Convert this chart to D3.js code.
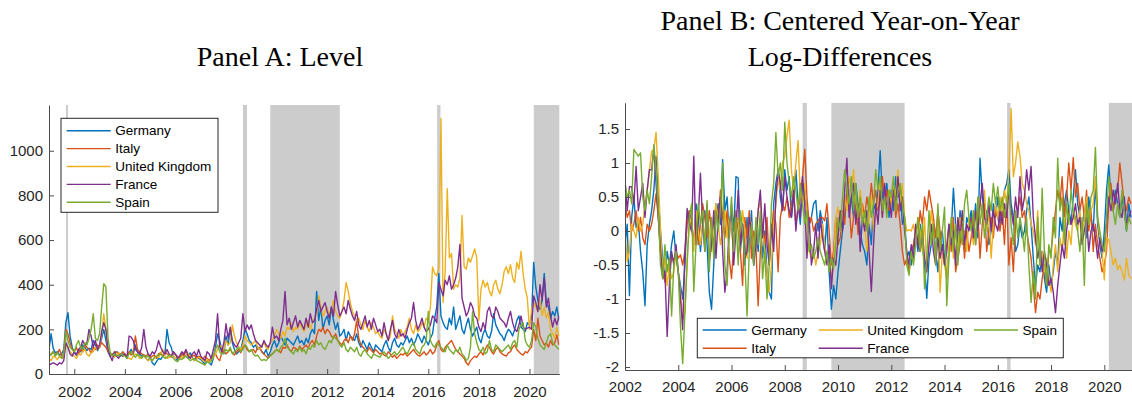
<!DOCTYPE html>
<html>
<head>
<meta charset="utf-8">
<script src="https://cdn.jsdelivr.net/npm/d3@7"></script>
<style>
  body { margin: 0; background: #fff; }
  svg { display: block; }
</style>
</head>
<body>
<div id="vis"></div>
<script>
const countries = ["Germany", "Italy", "United Kingdom", "France", "Spain"];
const colors = ["#0072BD", "#D95319", "#EDB120", "#7E2F8E", "#77AC30"];

// Panel A: monthly levels, first value = Jan 2001
const levelStart = 2001;
const levelGermany = [
  110, 180, 115, 95, 100, 85, 90, 110, 230, 275, 170, 120,
  95, 85, 110, 100, 130, 120, 105, 115, 110, 150, 130, 105,
  120, 160, 200, 150, 100, 80, 90, 85, 100, 95, 80, 90,
  85, 75, 95, 110, 90, 130, 100, 90, 80, 85, 70, 60,
  75, 50, 40, 55, 70, 65, 80, 90, 200, 140, 120, 80,
  70, 60, 75, 85, 90, 80, 70, 95, 75, 60, 80, 70,
  65, 55, 45, 60, 50, 40, 70, 120, 180, 150, 110, 90,
  170, 130, 200, 140, 110, 90, 100, 110, 150, 200, 180, 150,
  140, 120, 130, 110, 120, 100, 90, 110, 80, 100, 130, 150,
  120, 140, 170, 150, 130, 160, 150, 140, 130, 150, 170, 140,
  150, 130, 160, 140, 180, 200, 180, 370, 240, 300, 200, 240,
  260, 220, 300, 240, 200, 230, 170, 180, 200, 150, 190, 170,
  160, 150, 180, 140, 120, 150, 130, 110, 140, 120, 100, 130,
  120, 110, 100, 130, 150, 120, 100, 140, 160, 130, 120, 140,
  130, 150, 170, 140, 160, 130, 150, 180, 160, 140, 170, 150,
  130, 160, 180, 250, 300, 450, 260, 230, 210, 200, 250, 220,
  300, 200, 230, 260, 200, 180, 220, 250, 200, 170, 190, 210,
  160, 140, 180, 200, 170, 160, 190, 270, 220, 200, 180, 170,
  150, 180, 200, 190, 170, 200, 240, 260, 210, 200, 190, 230,
  220, 250, 500, 390, 330, 290, 330, 450, 320, 300, 250, 280,
  260, 300, 240];
const levelItaly = [
  80, 90, 100, 85, 95, 110, 80, 90, 200, 180, 140, 110,
  100, 120, 90, 110, 100, 130, 120, 110, 95, 120, 110, 130,
  120, 140, 130, 120, 100, 90, 85, 95, 100, 90, 85, 100,
  90, 80, 100, 85, 95, 170, 110, 100, 90, 85, 80, 90,
  70, 80, 85, 70, 90, 95, 80, 100, 90, 85, 75, 100,
  85, 80, 70, 95, 80, 105, 90, 75, 80, 85, 70, 80,
  75, 65, 80, 70, 60, 75, 85, 90, 70, 60, 95, 105,
  90, 100, 110, 95, 85, 100, 110, 95, 120, 130, 110, 100,
  105, 110, 95, 120, 115, 100, 90, 80, 70, 85, 90, 100,
  110, 105, 95, 120, 115, 130, 110, 100, 120, 115, 105, 125,
  110, 120, 130, 115, 140, 150, 130, 170, 200, 190, 210, 180,
  200, 190, 170, 160, 180, 150, 140, 130, 150, 160, 140, 170,
  150, 180, 240, 160, 130, 120, 110, 100, 120, 105, 95, 110,
  100, 90, 95, 85, 80, 100, 90, 75, 85, 70, 80, 90,
  85, 95, 80, 90, 100, 110, 95, 85, 80, 90, 100, 85,
  95, 110, 90, 100, 130, 150, 110, 100, 120, 130, 140, 150,
  130, 110, 100, 90, 80, 70, 50, 40, 60, 70, 80, 75,
  90, 100, 85, 110, 130, 120, 100, 90, 110, 120, 100, 90,
  85, 80, 95, 100, 120, 130, 110, 100, 90, 85, 100, 95,
  110, 120, 200, 150, 250, 170, 150, 130, 140, 120, 150, 130,
  140, 175, 130];
const levelUK = [
  70, 60, 80, 75, 65, 80, 70, 75, 130, 120, 100, 90,
  80, 70, 90, 85, 100, 110, 90, 80, 95, 100, 120, 110,
  120, 180, 270, 200, 110, 90, 80, 75, 85, 95, 90, 80,
  85, 75, 70, 65, 80, 90, 85, 70, 75, 80, 70, 60,
  65, 60, 70, 80, 75, 90, 110, 80, 70, 75, 85, 80,
  70, 75, 65, 80, 70, 85, 90, 80, 70, 60, 65, 75,
  70, 60, 55, 65, 50, 60, 75, 90, 110, 130, 120, 110,
  150, 130, 140, 220, 170, 140, 120, 110, 130, 170, 150, 140,
  130, 140, 150, 120, 110, 130, 140, 120, 110, 140, 150, 170,
  200, 180, 160, 190, 170, 210, 200, 230, 190, 210, 200, 230,
  210, 190, 220, 240, 200, 230, 250, 270, 350, 300, 260, 280,
  300, 260, 290, 330, 280, 260, 250, 280, 330, 410, 370, 320,
  280, 260, 240, 250, 220, 200, 240, 210, 190, 230, 210, 180,
  190, 170, 160, 200, 180, 150, 170, 260, 200, 180, 160, 200,
  170, 190, 210, 250, 200, 180, 220, 190, 200, 230, 210, 250,
  240, 300, 480, 450, 440, 480, 1145, 320, 460, 830, 520, 540,
  380, 400, 390, 430, 710, 480, 470, 520, 500, 530, 560, 520,
  240, 380, 420, 390, 410, 370, 350, 400, 420, 380, 360, 400,
  460, 480, 450, 490, 430, 410, 500, 470, 550, 450, 380, 340,
  200, 290, 320, 300, 280, 330, 260, 300, 250, 280, 200, 180,
  160, 210, 170];
const levelFrance = [
  40, 45, 50, 45, 40, 50, 45, 60, 140, 120, 90, 80,
  100, 85, 110, 120, 150, 130, 140, 200, 170, 120, 150, 110,
  130, 190, 230, 200, 110, 80, 60, 100, 80, 70, 90, 80,
  90, 70, 170, 165, 150, 110, 100, 90, 120, 200, 120, 90,
  80, 100, 90, 110, 150, 120, 100, 90, 110, 90, 80, 100,
  90, 70, 80, 100, 90, 110, 80, 70, 90, 100, 80, 110,
  80, 70, 60, 100, 90, 70, 110, 150, 270, 120, 100, 140,
  225, 160, 210, 150, 130, 120, 140, 160, 270, 190, 220, 200,
  220, 180, 150, 140, 130, 120, 150, 130, 120, 140, 210, 160,
  170, 150, 200, 240, 370, 220, 250, 200, 230, 260, 210, 240,
  220, 200, 250, 210, 270, 230, 240, 290, 330, 280, 300, 320,
  280, 250, 300, 260, 370, 310, 260, 280, 300, 270, 330, 290,
  260, 240, 280, 220, 200, 230, 260, 210, 240, 200, 250, 220,
  190, 200, 170, 230, 180, 150, 200, 240, 180, 160, 200, 170,
  180, 160, 200, 230, 250, 320, 240, 200, 220, 250, 210, 190,
  200, 220, 260, 250, 230, 410, 380, 350, 420, 400, 440, 380,
  400, 430, 480, 580, 340, 300, 260, 280, 320, 300, 260, 250,
  210, 190, 230, 200, 280, 300, 260, 250, 300, 280, 250, 240,
  230, 210, 250, 280, 230, 200, 190, 220, 260, 210, 200, 205,
  210, 200, 350, 320, 280, 400, 330, 430, 300, 340, 260, 210,
  250, 220, 260];
const levelSpain = [
  90, 85, 100, 80, 95, 80, 70, 90, 190, 150, 120, 110,
  100, 130, 150, 120, 110, 140, 130, 160, 200, 270, 160, 150,
  180, 300, 405, 390, 160, 100, 80, 90, 85, 80, 90, 85,
  80, 70, 90, 100, 85, 75, 90, 80, 70, 85, 75, 80,
  70, 60, 75, 80, 85, 90, 80, 70, 75, 85, 80, 70,
  60, 55, 70, 65, 75, 80, 70, 60, 65, 70, 60, 55,
  50, 45, 40, 55, 50, 60, 80, 110, 130, 100, 90, 95,
  110, 100, 120, 90, 100, 110, 120, 100, 110, 130, 120, 100,
  110, 90, 80, 85, 70, 60, 65, 60, 70, 80, 90, 100,
  110, 100, 120, 130, 160, 120, 110, 100, 90, 110, 100, 120,
  100, 110, 90, 120, 110, 130, 120, 150, 130, 140, 120, 110,
  130, 150, 140, 170, 160, 150, 130, 120, 140, 110, 100, 120,
  110, 100, 120, 90, 80, 100, 110, 90, 80, 70, 90, 85,
  80, 75, 90, 100, 85, 70, 80, 90, 100, 85, 95, 110,
  120, 100, 90, 110, 130, 140, 110, 100, 90, 120, 130, 150,
  280, 150, 130, 120, 140, 130, 120, 110, 100, 130, 110, 100,
  90, 110, 100, 120, 90, 80, 60, 70, 120, 280, 180, 140,
  110, 100, 120, 90, 100, 150, 110, 100, 130, 120, 110, 100,
  110, 120, 130, 110, 140, 150, 120, 200, 220, 230, 150, 130,
  120, 150, 230, 210, 160, 130, 120, 110, 140, 170, 180, 140,
  130, 120, 110];

// Panel B: centered year-on-year log-differences, first value = Jan 2002
const diffStart = 2002;
const diffGermany = [
  -0.2, 0.1, -0.95, 0.2, 0.5, 0.05, 0.15, -0.3, -0.6, -1.1, -0.2, 0.1,
  0.3, 0.6, 1.1, 0.5, 0.0, -0.4, -0.7, -0.3, -0.5, -0.2, 0.0, -0.4,
  -0.6, -0.8, -1.0, -0.5, 0.2, 0.3, 0.1, -0.2, 0.4, 0.2, -0.3, 0.1,
  0.3, -0.2, -0.9, -1.15, -0.5, 0.2, 0.4, 0.1, 1.05, 0.3, 0.5, -0.1,
  0.4, 0.0, 0.8, 0.78, -0.3, 0.1, -0.5, 0.2, -0.3, 0.3, -0.5, 0.1,
  -0.3, 0.2, -0.4, 0.0, -0.6, -0.9, -1.0, 0.4, 0.7, 0.9, 0.5, 0.3,
  0.9, 0.6, 0.8, 0.2, 0.5, 0.9, 0.4, 0.1, 0.7, 0.6, 0.3, 0.1,
  0.2, 0.4, 0.45, 0.0, 0.3, 0.1, -0.3, 0.2, -0.6, -1.15, -0.8, -1.0,
  -0.6, -0.3, 0.0, 0.2, 0.6, 0.3, 0.5, 0.2, 0.7, 0.4, 0.0, -0.2,
  -0.3, -0.5, 0.1, -0.2, 0.4, 0.3, 0.6, 1.18, 0.5, 0.4, 0.7, 0.2,
  0.6, 0.3, 0.8, 0.5, 0.6, 0.1, 0.2, -0.4, -0.3, -0.5, -0.2, 0.0,
  -0.3, 0.1, -0.2, -0.5, -0.99, -0.4, -0.2, 0.1, -0.3, -0.6, -0.1, 0.0,
  -0.4, -0.7, -0.3, 0.0, 0.63, 0.1, -0.2, 0.3, 0.0, -0.3, 0.2, 0.1,
  0.3, 0.0, 0.4, -0.1, 1.07, 0.5, 0.2, 0.3, -0.2, 0.0, 0.4, 0.2,
  0.5, 0.1, 0.3, 0.6, 0.7, 0.9, 0.4, 0.2, -0.3, -0.2, 0.1, -0.1,
  0.0, 0.3, 0.5, 0.1, -0.4, -0.8, -0.5, -0.6, -0.3, -0.7, -0.9, -0.5,
  -0.8, -0.6, -0.3, -0.5, 0.2, 0.0, 0.4, 0.6, 0.3, 0.1, 0.5, 0.9,
  0.4, 0.2, 0.0, 0.3, -0.1, 0.5, 0.2, 0.0, 0.7, 0.1, -0.2, -0.4,
  0.0, 0.6, 0.97, 0.5, 0.3, 0.6, 0.4, 0.2, 0.5, 0.3, 0.0, 0.4,
  0.2];
const diffItaly = [
  0.4, 0.2, 0.3, 0.0, 0.1, 0.3, 0.0, 0.2, -0.1, -0.2, 0.1, 0.0,
  0.1, 0.3, 0.55, 0.2, -0.3, -0.6, -0.75, -0.5, -0.6, -0.35, -0.45, -0.3,
  -0.4, -0.35, -0.5, -0.3, 0.1, 0.3, 0.0, -0.1, 0.2, -0.2, 0.1, 0.4,
  0.2, -0.1, 0.3, 0.0, -0.2, 0.4, 0.1, 0.6, 0.2, -0.1, 0.3, -0.4,
  -0.7, -0.2, 0.3, 0.0, -0.3, -0.8, 0.2, -0.1, 0.3, -0.4, 0.0, -0.2,
  -1.1, -0.3, 0.1, -0.2, 0.2, -0.5, 0.0, 0.3, 0.1, -0.6, 0.2, 0.4,
  0.3, 0.5, 0.2, 0.4, 0.6, 0.1, 0.3, 0.5, 0.8, 1.2, 0.5, 0.1,
  0.2, 0.0, 0.1, 0.15, 0.2, 0.2, 0.15, 0.4, 0.0, -0.5, -0.3, 0.2,
  -0.2, -0.1, 0.3, 0.1, 0.6, 0.4, -0.1, 0.2, 0.5, -0.05, 0.3, 0.4,
  0.2, 0.5, 0.3, 0.7, 0.4, 0.6, 0.3, 0.5, 0.8, 0.4, 0.6, 0.3,
  0.5, 0.7, 0.2, 0.4, 0.1, -0.3, -0.5, -0.4, -0.6, -0.3, -0.2, 0.0,
  -0.2, 0.3, 0.1, 0.5, 0.3, 0.6, 0.4, 0.2, -0.1, 0.3, 0.0, -0.3,
  -0.5, -0.2, 0.1, -0.3, 0.2, -0.6, -0.4, -0.2, 0.1, -0.4, 0.0, -0.3,
  -0.1, 0.2, -0.2, 0.3, -0.4, 0.1, 0.4, -0.3, 0.0, 0.2, -0.1, 0.3,
  0.2, 0.0, 0.3, -0.2, 0.5, -0.5, -0.1, -0.6, 0.1, 0.3, 0.5, 0.2,
  0.3, 0.0, -0.2, -0.4, -0.8, -1.2, -0.9, -1.0, -0.7, -0.5, -0.8, -0.3,
  -0.3, 0.0, 0.3, 0.6, 0.4, 0.8, 0.2, 0.5, 1.0, 0.6, 1.08, 0.5,
  0.7, 0.3, 0.5, 0.2, 0.6, 0.0, 0.3, -0.3, 0.1, -0.2, -0.4, -0.6,
  -0.5, -0.3, 0.4, 0.7, 0.3, 0.5, 0.6, 1.0, 0.7, 0.4, 0.3, 0.5,
  0.4];
const diffUK = [
  0.0, -0.45, -0.3, 0.1, 0.0, -0.1, 0.2, 0.0, 0.1, 0.4, 0.6, 0.9,
  1.17, 1.2, 1.45, 0.8, 0.0, -0.6, -0.4, -0.8, -0.5, -0.7, -0.6, -0.3,
  -0.6, -0.9, -1.3, -1.2, -0.4, 0.1, 0.2, -0.3, 0.3, 0.0, -0.2, 0.1,
  -0.1, 0.3, 0.0, -0.3, 0.2, 0.4, 0.1, -0.2, 0.0, 0.3, -0.1, 0.2,
  0.0, -0.3, 0.1, 0.2, -0.2, 0.3, 0.0, -0.4, 0.2, 0.1, -0.3, 0.0,
  0.3, 0.45, 0.0, -0.3, -0.6, -0.9, -0.5, 0.1, 0.4, 0.8, 0.6, 1.0,
  1.1, 1.4, 1.63, 0.9, 0.6, 1.0, 1.33, 0.5, 0.4, 0.7, 0.2, -0.3,
  -0.4, -0.3, -0.5, -0.3, -0.2, 0.1, -0.2, -0.4, -0.3, -0.7, -0.5, 0.2,
  0.35, 0.0, 0.2, 0.5, 0.3, 0.8, 0.6, 0.9, 0.4, 0.2, 0.6, 0.3,
  0.1, -0.3, 0.2, 0.5, 0.0, 0.3, 0.4, 0.7, 0.2, 0.5, 0.3, 0.6,
  0.4, 0.7, 0.5, 0.9, 0.4, 0.7, 0.2, 0.0, 0.02, 0.0, 0.1, -0.1,
  0.2, 0.0, -0.3, 0.2, -0.6, -0.2, 0.3, 0.0, -0.4, 0.1, -0.9, -0.3,
  -0.5, -0.7, -0.2, 0.1, -0.4, 0.0, -0.3, 0.2, -0.1, 0.0, -0.3, 0.2,
  0.1, -0.2, 0.3, 0.0, 0.5, 0.2, 0.6, 0.0, 0.3, -0.4, 0.1, 0.4,
  0.2, 0.5, 0.3, 0.6, 0.4, 0.9, 1.8, 0.8, 1.0, 1.31, 1.1, 0.7,
  0.6, 0.4, 0.3, 0.1, 0.0, -0.2, 0.3, -0.5, -0.3, -0.6, -0.4, -0.7,
  -0.9, -0.5, -0.2, -0.6, -0.1, -0.3, 0.2, -0.4, 0.0, -0.2, 0.3, 0.1,
  0.0, 0.3, -0.1, 0.2, 0.5, 0.1, 0.3, 0.4, 0.8, 0.2, -0.1, -0.3,
  -0.72, -0.1, -0.13, -0.3, -0.5, -0.4, -0.57, -0.5, -0.6, -0.72, -0.4, -0.65,
  -0.7];
const diffFrance = [
  0.75, 0.3, 0.65, 0.65, 0.4, 0.95, 0.3, 0.5, 0.7, 0.2, 0.6, 0.9,
  0.9, 1.22, 0.7, 0.2, -0.3, -0.7, -0.6, -1.55, -0.8, -0.3, -0.5, -0.2,
  -0.6, -1.0, -1.45, -0.3, 0.33, 0.1, 0.0, 1.1, -0.2, 0.2, 0.85, 0.1,
  -0.3, 0.4, -0.45, -0.2, 0.3, -0.4, 0.2, 0.5, -0.3, -0.9, -0.6, 0.1,
  0.3, -0.5, 0.0, 0.6, -0.2, 0.1, -0.4, -0.3, 0.2, 0.0, -0.5, -0.2,
  0.3, 0.6, -0.1, 0.4, -0.2, -0.5, 0.1, -0.3, 0.5, 0.9, 0.7, 0.3,
  0.8, 0.5, 0.3, 0.2, 0.6, 0.0, 0.4, 0.2, 0.8, 0.4, -0.4, 0.2,
  -0.5, -0.3, 0.1, -0.4, 0.2, -0.1, -0.3, -0.5, -0.2, -0.85, -0.4, -0.5,
  -0.1, 0.3, 0.0, 0.6, 1.07, 0.2, 0.5, 0.7, 0.1, 0.4, -0.3, 0.2,
  0.0, 0.3, -0.3, -0.89, -0.2, 0.4, 0.1, 0.6, 0.2, 0.7, 0.3, 0.5,
  0.2, 0.6, 0.4, 0.8, 0.3, 0.5, 0.0, -0.3, -0.5, -0.2, -0.4, 0.1,
  -0.2, -0.3, 0.0, -0.4, -0.6, -0.2, 0.1, -0.3, -0.5, -0.1, -0.4, -0.2,
  -0.5, -0.3, 0.1, -0.2, 0.0, -0.5, 0.2, -0.1, 0.3, -0.2, 0.1, 0.0,
  0.2, -0.1, 0.3, 0.0, 0.4, 0.7, 0.2, 0.1, 0.4, 0.0, 0.3, 0.1,
  0.0, 0.3, 0.1, 0.4, 0.2, 0.6, 0.3, 0.1, 0.5, 0.2, 0.8, 0.3,
  0.5, 0.9, 0.6, 0.95, 0.2, -0.1, -0.4, -0.2, -0.6, -0.3, -0.5, -0.8,
  -0.7, -0.9, -1.2, -0.8, -0.5, -0.2, -0.4, 0.0, 0.3, 0.1, 0.2, 0.4,
  0.1, 0.2, -0.2, 0.0, 0.2, -0.3, 0.0, 0.1, -0.1, -0.4, -0.1, -0.3,
  -0.2, 0.1, 0.5, 0.3, 0.6, 0.4, 0.7, 0.3, 0.2, 0.5, 0.1, 0.2,
  0.3];
const diffSpain = [
  0.7, 0.5, 0.6, 0.4, 1.2, 1.15, 1.1, 1.15, 0.5, 0.3, 0.6, 0.4,
  0.8, 1.27, 0.9, 0.3, -0.5, -0.7, -0.2, -0.6, -0.4, -1.25, -0.5, -0.3,
  -0.6, -1.4, -1.95, -1.2, -0.5, 0.2, 0.4, -0.89, -0.2, 0.4, 0.1, 0.3,
  -0.3, 0.45, -0.6, 0.2, -0.4, 0.3, 0.0, 0.3, 1.0, -0.5, -0.8, 0.0,
  0.5, -0.3, 0.2, -0.5, 0.3, 0.0, -0.4, -1.25, -0.3, 0.1, -0.5, 0.2,
  -0.2, 0.3, -0.7, -0.3, -1.0, -0.5, 0.4, 0.7, 1.45, 0.8, 1.0, 0.6,
  1.6, 1.0, 0.7, 0.5, 0.8, 0.6, 0.3, 0.7, 0.4, 0.1, 0.3, -0.3,
  -0.2, -0.4, -0.3, -0.1, -0.3, -0.4, -0.5, -0.3, -0.6, -0.4, -0.55, -0.2,
  0.2, 0.0, 0.5, 0.9, 0.6, 0.4, 0.8, 0.3, 0.7, 0.2, 0.5, 0.1,
  0.3, 0.0, 0.5, 0.2, 0.4, 0.9, 0.6, 0.8, 0.3, 0.5, 0.2, 0.6,
  0.5, 0.8, 0.3, 0.6, 0.7, 0.4, 0.2, -0.5, -0.65, -0.3, -0.5, -0.2,
  0.2, -0.3, 0.1, -0.85, -0.4, 0.3, -0.2, 0.1, -0.5, 0.4, -0.3, 0.0,
  0.35, -1.1, -0.4, 0.2, -0.3, 0.1, -0.5, 0.0, -0.2, 0.4, 0.6, 0.2,
  0.0, 0.3, -0.2, 0.5, 0.1, 0.4, -0.1, 0.2, 0.5, 0.3, 0.7, 0.4,
  0.65, 0.3, 0.5, 0.2, 0.4, 0.7, 0.1, -0.2, 0.3, -0.1, 0.2, 0.0,
  -0.3, 0.2, -0.5, -1.05, -0.6, -1.0, 0.2, -0.5, 0.63, -0.3, -0.8, -0.2,
  -0.4, 0.2, -0.1, 1.07, 0.3, 0.5, -0.2, 0.4, 0.1, 0.6, 0.3, 0.2,
  0.0, -0.3, 0.2, -0.8, 0.4, 0.1, 0.5, 0.6, 1.23, 0.2, 0.0, -0.2,
  -0.3, 0.2, 0.8, 0.5, 0.3, 0.1, 0.4, 0.2, 0.6, 0.3, 0.0, 0.2,
  0.1];

// shaded event windows (decimal years)
const shadeFrom = [2001.67, 2008.67, 2009.75, 2016.35, 2020.17];
const shadeTo = [2001.75, 2008.83, 2012.5, 2016.48, 2021.5];

const yearTicks = [2002, 2004, 2006, 2008, 2010, 2012, 2014, 2016, 2018, 2020];
const levelTicks = [0, 200, 400, 600, 800, 1000];
const diffTicks = [-2, -1.5, -1, -0.5, 0, 0.5, 1, 1.5];
const diffTickLabels = ["-2", "-1.5", "-1", "-0.5", "0", "0.5", "1", "1.5"];

const W = 1132, H = 401;
const axisColor = "#4d4d4d";
const textColor = "#262626";
const sans = "'Liberation Sans', Arial, sans-serif";
const serif = "'Liberation Serif', 'Times New Roman', serif";

const svg = d3.select("#vis").append("svg")
    .attr("width", W)
    .attr("height", H);

function drawPanel(p) {
  const x = d3.scaleLinear().domain(p.xDomain).range([p.left, p.right]);
  const y = d3.scaleLinear().domain(p.yDomain).range([p.bottom, p.top]);
  const g = svg.append("g").attr("id", p.id);

  g.append("clipPath").attr("id", p.id + "clip")
    .append("rect")
    .attr("x", p.left).attr("y", p.top)
    .attr("width", p.right - p.left).attr("height", p.bottom - p.top);

  // shaded windows
  g.append("g").attr("clip-path", "url(#" + p.id + "clip)")
    .selectAll("rect")
    .data(d3.range(shadeFrom.length))
    .join("rect")
    .attr("x", i => x(shadeFrom[i]))
    .attr("width", i => x(shadeTo[i]) - x(shadeFrom[i]))
    .attr("y", p.top)
    .attr("height", p.bottom - p.top)
    .attr("fill", "#cccccc");

  // series
  const line = d3.line()
      .x((d, i) => x(p.start + i / 12))
      .y(d => y(d));
  g.append("g").attr("clip-path", "url(#" + p.id + "clip)")
    .selectAll("path")
    .data(p.series)
    .join("path")
    .attr("d", d => line(d))
    .attr("fill", "none")
    .attr("stroke", (d, i) => colors[i])
    .attr("stroke-width", 1.4)
    .attr("stroke-linejoin", "round");

  // axes, ticks pointing inward
  const xAxis = d3.axisBottom(x)
      .tickValues(yearTicks)
      .tickFormat(d3.format("d"))
      .tickSizeInner(-5)
      .tickSizeOuter(0)
      .tickPadding(p.xPad);
  const yAxis = d3.axisLeft(y)
      .tickValues(p.yTicks)
      .tickFormat((d, i) => p.yLabels[i])
      .tickSizeInner(-5)
      .tickSizeOuter(0)
      .tickPadding(6);

  g.append("g")
    .attr("transform", "translate(0," + p.bottom + ")")
    .call(xAxis)
    .call(a => a.select(".domain").attr("stroke", axisColor))
    .call(a => a.selectAll(".tick line").attr("stroke", axisColor))
    .call(a => a.selectAll("text").attr("font-size", 15)
        .attr("font-family", sans).attr("fill", textColor));

  g.append("g")
    .attr("transform", "translate(" + p.left + ",0)")
    .call(yAxis)
    .call(a => a.select(".domain").attr("stroke", axisColor))
    .call(a => a.selectAll(".tick line").attr("stroke", axisColor))
    .call(a => a.selectAll("text").attr("font-size", 15)
        .attr("font-family", sans).attr("fill", textColor));

  // title
  g.append("text")
    .attr("text-anchor", "middle")
    .attr("font-family", serif)
    .attr("font-size", 28)
    .attr("fill", "#000")
    .selectAll("tspan")
    .data(p.title)
    .join("tspan")
    .attr("x", p.titleX)
    .attr("y", (d, i) => p.titleY + i * 36)
    .text(d => d);

  // legend
  const lg = g.append("g");
  lg.append("rect")
    .attr("x", p.legend.x).attr("y", p.legend.y)
    .attr("width", p.legend.w).attr("height", p.legend.h)
    .attr("fill", "#fff")
    .attr("stroke", textColor)
    .attr("stroke-width", 1);
  const items = lg.selectAll("g.item")
    .data(countries)
    .join("g")
    .attr("class", "item")
    .attr("transform", (d, i) => "translate(" + p.legend.colX[p.legend.col[i]] + ","
        + p.legend.rowY[p.legend.row[i]] + ")");
  items.append("line")
    .attr("x1", 0).attr("x2", 44)
    .attr("y1", 0).attr("y2", 0)
    .attr("stroke", (d, i) => colors[i])
    .attr("stroke-width", 1.4);
  items.append("text")
    .attr("x", 48.5)
    .attr("y", 0)
    .attr("dy", "0.35em")
    .attr("font-family", sans)
    .attr("font-size", 13.5)
    .attr("fill", "#000")
    .text(d => d);
}

drawPanel({
  id: "panelA",
  left: 49, right: 559.3, top: 105, bottom: 374,
  xDomain: [2001, 2021.18],
  yDomain: [0, 1205],
  start: levelStart,
  series: [levelGermany, levelItaly, levelUK, levelFrance, levelSpain],
  yTicks: levelTicks,
  yLabels: levelTicks.map(String),
  xPad: 12,
  title: ["Panel A: Level"],
  titleX: 280, titleY: 66,
  legend: {x: 61, y: 118.3, w: 157, h: 94,
           colX: [66.7], rowY: [130.7, 148.6, 166.5, 184.4, 202.3],
           col: [0, 0, 0, 0, 0], row: [0, 1, 2, 3, 4]}
});

drawPanel({
  id: "panelB",
  left: 625, right: 1132, top: 102.7, bottom: 370,
  xDomain: [2002, 2021.04],
  yDomain: [-2.044, 1.887],
  start: diffStart,
  series: [diffGermany, diffItaly, diffUK, diffFrance, diffSpain],
  yTicks: diffTicks,
  yLabels: diffTickLabels,
  xPad: 11,
  title: ["Panel B: Centered Year-on-Year", "Log-Differences"],
  titleX: 840, titleY: 30,
  legend: {x: 697.3, y: 318.3, w: 366, h: 39.5,
           colX: [702.7, 818.7, 974], rowY: [330, 348.3],
           col: [0, 0, 1, 1, 2], row: [0, 1, 0, 1, 0]}
});
</script>
</body>
</html>
